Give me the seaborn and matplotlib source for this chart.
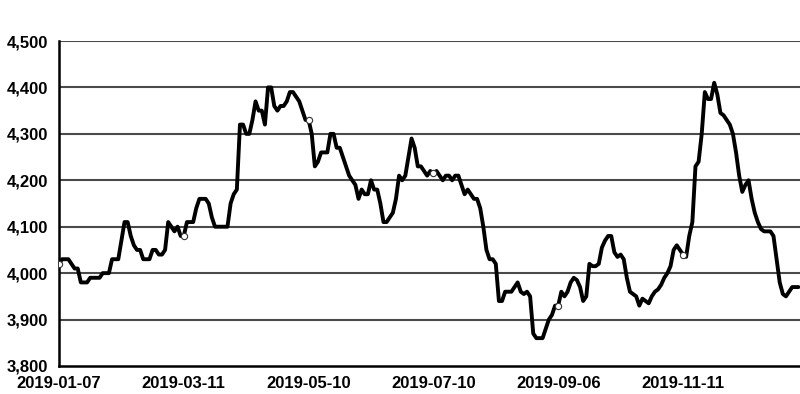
import matplotlib
matplotlib.use("Agg")
import matplotlib.pyplot as plt
import seaborn as sns
import pandas as pd

prices = [
    4020, 4030, 4030, 4030, 4020, 4010, 4010, 3980, 3980, 3980,
    3990, 3990, 3990, 3990, 4000, 4000, 4000, 4030, 4030, 4030,
    4070, 4110, 4110, 4080, 4060, 4050, 4050, 4030, 4030, 4030,
    4050, 4050, 4040, 4040, 4050, 4110, 4100, 4090, 4100, 4080,
    4080, 4110, 4110, 4110, 4140, 4160, 4160, 4160, 4150, 4120,
    4100, 4100, 4100, 4100, 4100, 4150, 4170, 4180, 4320, 4320,
    4300, 4300, 4330, 4370, 4350, 4350, 4320, 4400, 4400, 4360,
    4350, 4360, 4360, 4370, 4390, 4390, 4380, 4370, 4350, 4330,
    4330, 4300, 4230, 4240, 4260, 4260, 4260, 4300, 4300, 4270,
    4270, 4250, 4230, 4210, 4200, 4190, 4160, 4180, 4170, 4170,
    4200, 4180, 4180, 4150, 4110, 4110, 4120, 4130, 4160, 4210,
    4200, 4210, 4250, 4290, 4270, 4230, 4230, 4220, 4210, 4220,
    4215, 4220, 4210, 4200, 4210, 4210, 4200, 4210, 4210, 4190,
    4170, 4180, 4170, 4160, 4160, 4140, 4100, 4050, 4030, 4030,
    4020, 3940, 3940, 3960, 3960, 3960, 3970, 3980, 3960, 3955,
    3960, 3950, 3870, 3860, 3860, 3860, 3880, 3900, 3910, 3930,
    3930, 3960, 3950, 3960, 3980, 3990, 3985, 3970, 3940, 3950,
    4020, 4015, 4015, 4020, 4055, 4070, 4080, 4080, 4045, 4035,
    4040, 4030, 3990, 3960, 3955, 3950, 3930, 3945, 3940, 3935,
    3950, 3960, 3965, 3975, 3990, 4000, 4015, 4050, 4060, 4050,
    4040, 4035, 4080, 4110, 4230, 4240, 4300, 4390, 4375, 4375,
    4410, 4385, 4345, 4340, 4330, 4320, 4300, 4260, 4210, 4175,
    4190, 4200, 4160, 4130, 4110, 4095, 4090, 4090, 4090, 4080,
    4030, 3980, 3955, 3950, 3960, 3970, 3970, 3970,
]
tick_positions = [0, 40, 80, 120, 160, 200]
tick_labels = ["2019-01-07", "2019-03-11", "2019-05-10",
               "2019-07-10", "2019-09-06", "2019-11-11"]
y_ticks = [3800, 3900, 4000, 4100, 4200, 4300, 4400, 4500]

df = pd.DataFrame({"day": range(len(prices)), "price": prices})

sns.set_style("white")
plt.rcParams["font.family"] = ["Liberation Sans", "DejaVu Sans"]

fig = plt.figure(figsize=(8, 3.94), dpi=100)
ax = fig.add_axes([59 / 800, 1 - 366 / 394, 1 - 59 / 800, (366 - 41) / 394])

for yv in y_ticks[1:]:
    ax.axhline(yv, color="#4a4a4a", lw=1.5, zorder=1)

sns.lineplot(data=df, x="day", y="price", ax=ax, color="black", lw=2.8,
             marker="o", markevery=40, markersize=4.5,
             markerfacecolor="white", markeredgecolor="#333333",
             markeredgewidth=0.8, solid_joinstyle="round", zorder=3)

ax.set_xlim(0, len(prices) - 0.5)
ax.set_ylim(3800, 4500)
ax.set_xticks(tick_positions)
ax.set_xticklabels(tick_labels)
ax.set_yticks(y_ticks)
ax.set_yticklabels([f"{v:,}" for v in y_ticks])
ax.set_xlabel("")
ax.set_ylabel("")

for side in ["top", "right"]:
    ax.spines[side].set_visible(False)
for side in ["left", "bottom"]:
    ax.spines[side].set_color("black")
    ax.spines[side].set_linewidth(1.8)

ax.tick_params(axis="both", direction="out", length=6, width=1.5,
               color="black", labelcolor="black", labelsize=12, pad=2)
ax.tick_params(axis="x", pad=1)
for lab in ax.get_xticklabels() + ax.get_yticklabels():
    lab.set_fontweight("bold")

fig.savefig("out.png", dpi=100)
